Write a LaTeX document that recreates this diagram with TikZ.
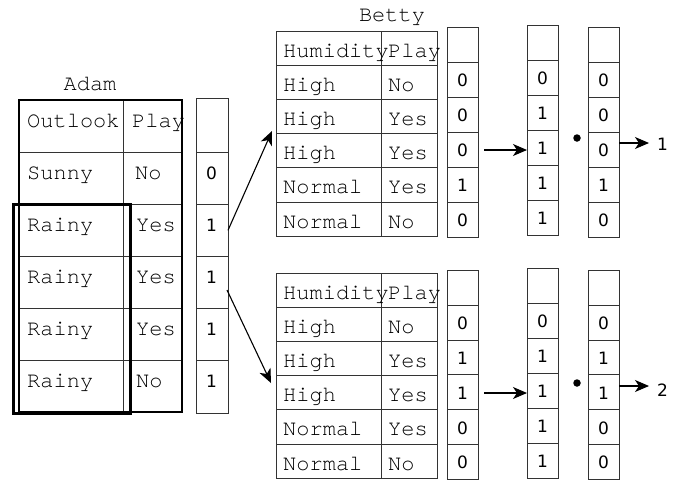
\documentclass[tikz,border=0pt]{standalone}
\usepackage{fontspec}
\setmonofont{texgyrecursor-regular.otf}
\newfontfamily\numfont{DejaVu Sans}
\usetikzlibrary{arrows.meta,calc}
\tikzset{
  cellbox/.style={draw=black!80, line width=0.9pt, rectangle, inner sep=0pt, outer sep=0pt, anchor=north west},
  mono/.style={font=\fontsize{22}{24}\selectfont\ttfamily, inner sep=0pt, anchor=base west},
  num/.style={font=\fontsize{17}{19}\selectfont\numfont, inner sep=0pt, anchor=base west},
  arr/.style={-{Stealth[length=14pt,width=12pt,inset=4pt]}, line width=1.1pt},
  dotnode/.style={circle, fill=black, inner sep=0pt, minimum size=7.5pt},
}
% vector column: #1 name, #2 x, #3 y top, #4 row height, #5 values, #6 baseline offset
\newcommand\mkvcol[6]{%
  \node[cellbox, minimum width=31pt, minimum height=#4pt] (#1r0) at (#2,#3) {};
  \foreach \v [count=\k] in {#5} {
    \node[cellbox, minimum width=31pt, minimum height=#4pt] (#1r\k) at (#2,{#3+#4*\k}) {};
    \node[num] (#1t\k) at ($(#1r\k.west)+(10,#6)$) {\v};
  }}
% Betty table: #1 name, #2 y top
\newcommand\mkbetty[2]{%
  \foreach \a/\b [count=\k from 0] in {Humidity/Play,High/No,High/Yes,High/Yes,Normal/Yes,Normal/No} {
    \node[cellbox, minimum width=105pt, minimum height=34.2pt] (#1A\k) at (276,{#2+34.2*\k}) {};
    \node[cellbox, minimum width=56pt, minimum height=34.2pt] (#1B\k) at (381,{#2+34.2*\k}) {};
    \node[mono] (#1At\k) at ($(#1A\k.west)+(7,9)$) {\a};
    \node[mono] (#1Bt\k) at ($(#1B\k.west)+(7,9)$) {\b};
  }}
\begin{document}
\begin{tikzpicture}[x=1pt,y=-1pt]
\useasboundingbox (0,0) rectangle (683,480);

% ---------- Adam table ----------
\node[mono, anchor=base] (adamlbl) at (90,90) {Adam};
\foreach \a/\b/\p [count=\k from 0] in {Outlook/Play/9,Sunny/No/12,Rainy/Yes/13,Rainy/Yes/13,Rainy/Yes/13,Rainy/No/13} {
  \node[cellbox, minimum width=104pt, minimum height=52pt] (adamA\k) at (19,{100+52*\k}) {};
  \node[cellbox, minimum width=59pt, minimum height=52pt] (adamB\k) at (123,{100+52*\k}) {};
  \node[mono] (adamAt\k) at ($(adamA\k.west)+(8,1)$) {\a};
  \node[mono] (adamBt\k) at ($(adamB\k.west)+(\p,1)$) {\b};
}
\node[draw=black, line width=2pt, anchor=north west, minimum width=163pt, minimum height=312pt, inner sep=0pt, outer sep=0pt] (adamframe) at (19,100) {};
\node[draw=black, line width=3pt, anchor=north west, minimum width=117pt, minimum height=209pt, inner sep=0pt, outer sep=0pt] (rainy) at (13,204) {};

% Adam vector
\node[cellbox, minimum width=32pt, minimum height=54pt] (adamv0) at (196,98) {};
\foreach \v [count=\k] in {0,1,1,1,1} {
  \node[cellbox, minimum width=32pt, minimum height=52.2pt] (adamv\k) at (196,{152+52.2*(\k-1)}) {};
  \node[num] (adamvt\k) at ($(adamv\k.west)+(10,1)$) {\v};
}

% ---------- Betty tables ----------
\node[mono, anchor=base] (bettylbl) at (392,21) {Betty};
\mkbetty{bt}{31}
\mkbetty{bb}{273}

% ---------- vectors, top ----------
\mkvcol{tc1}{447}{27}{35}{0,0,0,1,0}{7}
\mkvcol{tc2}{527}{25}{35}{0,1,1,1,1}{7}
\mkvcol{tc3}{588}{27}{35}{0,0,0,1,0}{7}
% ---------- vectors, bottom ----------
\mkvcol{bc1}{447}{270.5}{34.8}{0,1,1,0,0}{7}
\mkvcol{bc2}{527}{268}{35}{0,1,1,1,1}{7}
\mkvcol{bc3}{588}{270.5}{34.8}{0,1,1,0,0}{7}

% ---------- arrows ----------
\coordinate (uptip) at (272,131);
\coordinate (lowstart) at (227,290);
\coordinate (lowtip) at (271,383);
\draw[arr] (adamv2.east) -- (uptip);
\draw[arr] (lowstart) -- (lowtip);

\coordinate (tm0) at (484,150);
\draw[arr] (tm0) -- (tc2r3.west |- tm0);
\coordinate (bm0) at (484,393);
\draw[arr] (bm0) -- (bc2r3.west |- bm0);

\node[dotnode] (dot1) at (577,138) {};
\node[dotnode] (dot2) at (577,383) {};

\node[num] (res1) at (657,150) {1};
\node[num] (res2) at (657,396) {2};
\coordinate (r1s) at (619,143);
\coordinate (r1e) at (649,143);
\coordinate (r2s) at (619,386);
\coordinate (r2e) at (649,386);
\draw[arr] (r1s) -- (r1e);
\draw[arr] (r2s) -- (r2e);
\end{tikzpicture}
\end{document}
